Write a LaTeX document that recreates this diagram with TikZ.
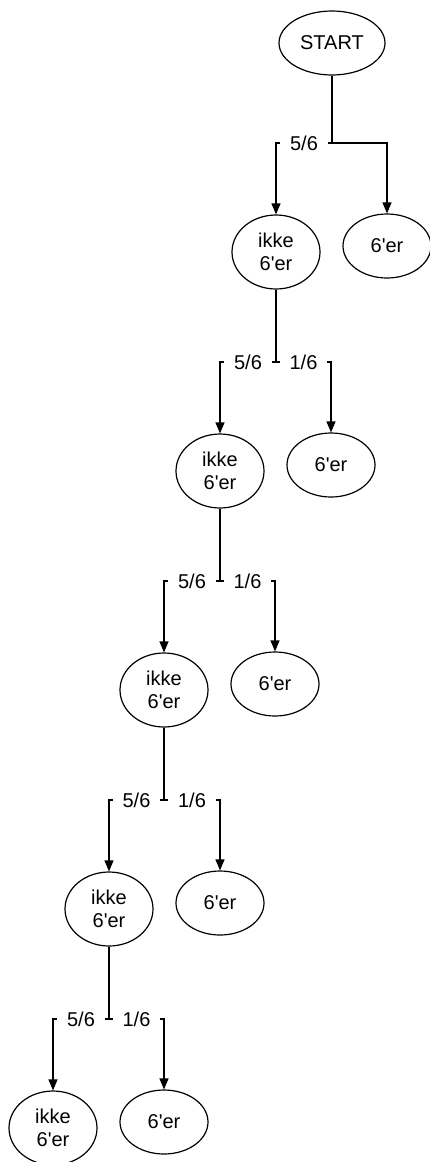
\documentclass[tikz,border=0pt]{standalone}
\usepackage{fontspec}
\setmainfont{Liberation Sans}
\usetikzlibrary{shapes.geometric,arrows.meta}

\newcommand{\seks}{6\textquotesingle er}

\begin{document}
\begin{tikzpicture}[x=1pt, y=-1pt, line width=1.2pt,
    every node/.style={font=\fontsize{20}{23}\selectfont},
    oval/.style={ellipse, draw, inner sep=0pt, minimum width=88pt, minimum height=64pt, align=center},
    ikke/.style={oval, minimum height=74pt},
    prob/.style={fill=white, inner xsep=10pt, inner ysep=1pt},
    arr/.style={-{Triangle[length=11pt, width=9pt]}}]
    \useasboundingbox (0,0) rectangle (429,1162);

    % --- Start ---
    \node[oval, minimum width=106pt] (start) at (332, 43) {START};
    \coordinate (j1) at (332, 143);

    % --- Level 1 ---
    \node[ikke] (ikke1) at (276, 252) {ikke\\\seks};
    \node[oval] (seks1) at (387, 246) {\seks};
    \draw (start) -- (j1);
    \draw[arr] (j1) -| node[prob, pos=0.25] {5/6} (ikke1);
    \draw[arr] (j1) -| (seks1);

    % --- Level 2 ---
    \coordinate (j2) at (276, 362);
    \node[ikke] (ikke2) at (220, 471) {ikke\\\seks};
    \node[oval] (seks2) at (331, 465) {\seks};
    \draw (ikke1) -- (j2);
    \draw[arr] (j2) -| node[prob, pos=0.25] {5/6} (ikke2);
    \draw[arr] (j2) -| node[prob, pos=0.25] {1/6} (seks2);

    % --- Level 3 ---
    \coordinate (j3) at (220, 581);
    \node[ikke] (ikke3) at (164, 690) {ikke\\\seks};
    \node[oval] (seks3) at (275, 684) {\seks};
    \draw (ikke2) -- (j3);
    \draw[arr] (j3) -| node[prob, pos=0.25] {5/6} (ikke3);
    \draw[arr] (j3) -| node[prob, pos=0.25] {1/6} (seks3);

    % --- Level 4 ---
    \coordinate (j4) at (164, 800);
    \node[ikke] (ikke4) at (109, 909) {ikke\\\seks};
    \node[oval] (seks4) at (220, 903) {\seks};
    \draw (ikke3) -- (j4);
    \draw[arr] (j4) -| node[prob, pos=0.25] {5/6} (ikke4);
    \draw[arr] (j4) -| node[prob, pos=0.25] {1/6} (seks4);

    % --- Level 5 ---
    \coordinate (j5) at (109, 1019);
    \node[ikke] (ikke5) at (53, 1128) {ikke\\\seks};
    \node[oval] (seks5) at (164, 1122) {\seks};
    \draw (ikke4) -- (j5);
    \draw[arr] (j5) -| node[prob, pos=0.25] {5/6} (ikke5);
    \draw[arr] (j5) -| node[prob, pos=0.25] {1/6} (seks5);
\end{tikzpicture}
\end{document}
